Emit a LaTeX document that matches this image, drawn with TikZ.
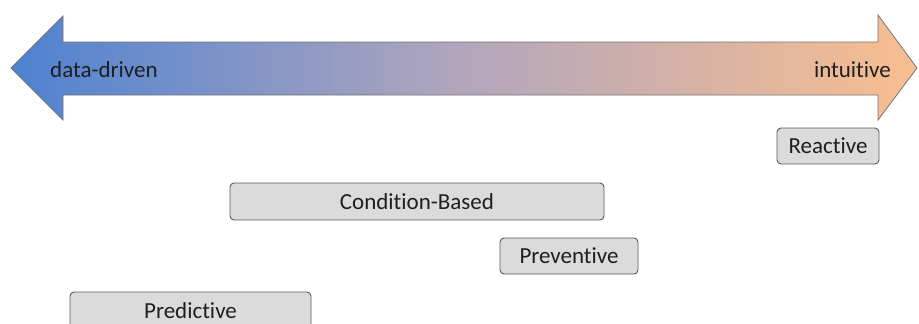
\documentclass[tikz,border=0pt]{standalone}
\usepackage{fontspec}
\setmainfont{Carlito}[Ligatures={NoCommon}]
\begin{document}
\begin{tikzpicture}[x=1pt,y=-1pt,
  box/.style={draw=black!65, line width=0.9pt, fill=black!14, rounded corners=4pt, inner sep=0pt, text=black!88, font=\fontsize{23}{26}\selectfont},
  lbl/.style={text=black!88, font=\fontsize{23}{26}\selectfont, inner sep=0pt}]
\useasboundingbox (0,0) rectangle (919,324);
\definecolor{lblue}{RGB}{78,130,210}
\definecolor{lmid}{RGB}{178,166,188}
\definecolor{lpeach}{RGB}{249,190,143}
\path[left color=lblue, right color=lpeach, middle color=lmid, draw=black!55, line width=0.8pt]
  (11,68) -- (63,16) -- (63,42) -- (878,42) -- (878,15) -- (917,68) -- (878,120) -- (878,95) -- (63,95) -- (63,120) -- cycle;
\node[lbl, anchor=west] (dd) at (50,70) {data-driven};
\node[lbl, anchor=east] (it) at (891,70) {intuitive};
\node[box, minimum width=102pt, minimum height=36pt] (reactive) at (828,146) {Reactive};
\node[box, minimum width=374pt, minimum height=37pt] (cond) at (417,201.5) {Condition-Based};
\node[box, minimum width=138pt, minimum height=36pt] (prev) at (569,256) {Preventive};
\node[box, minimum width=241pt, minimum height=38pt] (pred) at (190.5,311) {Predictive};
\end{tikzpicture}
\end{document}
